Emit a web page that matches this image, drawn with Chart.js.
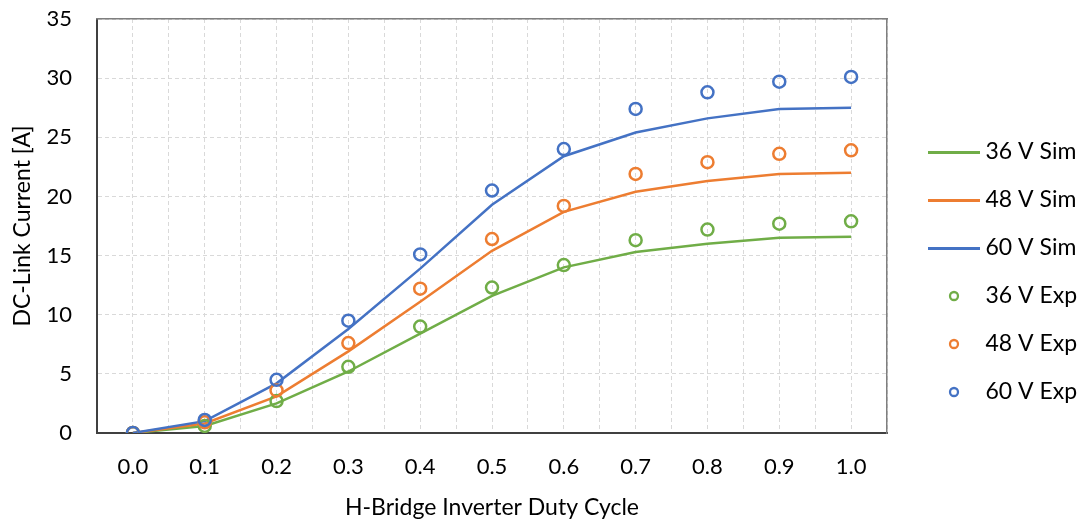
<!DOCTYPE html>
<html lang="en">
<head>
<meta charset="UTF-8">
<title>DC-Link Current vs Duty Cycle</title>
<script src="https://cdn.jsdelivr.net/npm/chart.js"></script>
<style>
  html, body { margin: 0; padding: 0; background: #fff; }
  #wrap { width: 1083px; height: 522px; }
</style>
</head>
<body>
<div id="wrap"><canvas id="chart" width="1083" height="522"></canvas></div>
<script>
// duty cycle categories
const dutyCycle = [0, 0.1, 0.2, 0.3, 0.4, 0.5, 0.6, 0.7, 0.8, 0.9, 1.0];
const xTickLabels = ['0.0', '0.1', '0.2', '0.3', '0.4', '0.5', '0.6', '0.7', '0.8', '0.9', '1.0'];

// simulation curves [A]
const sim36 = [0, 0.6, 2.5, 5.2, 8.4, 11.6, 14.0, 15.3, 16.0, 16.5, 16.6];
const sim48 = [0, 0.8, 3.1, 6.9, 11.1, 15.4, 18.7, 20.4, 21.3, 21.9, 22.0];
const sim60 = [0, 1.0, 4.2, 8.8, 13.9, 19.3, 23.4, 25.4, 26.6, 27.4, 27.5];

// measured points [A]
const exp36 = [0, 0.6, 2.7, 5.6, 9.0, 12.3, 14.2, 16.3, 17.2, 17.7, 17.9];
const exp48 = [0, 0.9, 3.6, 7.6, 12.2, 16.4, 19.2, 21.9, 22.9, 23.6, 23.9];
const exp60 = [0, 1.1, 4.5, 9.5, 15.1, 20.5, 24.0, 27.4, 28.8, 29.7, 30.1];

const yTicks = [0, 5, 10, 15, 20, 25, 30, 35];

const GREEN = '#70AD47', ORANGE = '#ED7D31', BLUE = '#4472C4';
const FONT = 'Lato, "Noto Sans", sans-serif';

const pts = arr => dutyCycle.map((x, i) => ({ x: x, y: arr[i] }));

function lineIcon(color) {
    const c = document.createElement('canvas');
    c.width = 52; c.height = 3;
    const g = c.getContext('2d');
    g.fillStyle = color;
    g.fillRect(0, 0, 52, 3);
    return c;
}
function circleIcon(color) {
    const c = document.createElement('canvas');
    c.width = 14; c.height = 14;
    const g = c.getContext('2d');
    g.strokeStyle = color;
    g.lineWidth = 2.3;
    g.beginPath();
    g.arc(7, 7, 4, 0, Math.PI * 2);
    g.stroke();
    return c;
}

function simSet(label, data, color, order) {
    return { label, data: pts(data), borderColor: color, backgroundColor: color, borderWidth: 2.5,
        showLine: true, pointRadius: 0, tension: 0, order, icon: lineIcon(color) };
}
function expSet(label, data, color, order) {
    return { label, data: pts(data), borderColor: color, backgroundColor: 'rgba(0,0,0,0)', showLine: false,
        pointRadius: 6, pointBorderWidth: 2.5, pointBackgroundColor: 'rgba(0,0,0,0)', pointBorderColor: color,
        order, icon: circleIcon(color) };
}

// half-category gridline positions
const xGrid = [];
dutyCycle.forEach(v => { xGrid.push(v - 0.05); xGrid.push(v); });
xGrid.push(dutyCycle[dutyCycle.length - 1] + 0.05);

const axisColor = '#404040';
const frame = '#7f7f7f';
const gridColor = '#d9d9d9';

new Chart(document.getElementById('chart'), {
    type: 'scatter',
    data: {
        datasets: [
            simSet('36 V Sim', sim36, GREEN, 6),
            simSet('48 V Sim', sim48, ORANGE, 5),
            simSet('60 V Sim', sim60, BLUE, 4),
            expSet('36 V Exp', exp36, GREEN, 3),
            expSet('48 V Exp', exp48, ORANGE, 2),
            expSet('60 V Exp', exp60, BLUE, 1)
        ]
    },
    options: {
        responsive: false,
        animation: false,
        layout: { padding: { top: 0, right: 0, bottom: 0, left: 0 } },
        plugins: {
            tooltip: { enabled: false },
            legend: {
                position: 'right',
                maxWidth: 174,
                title: { display: true, text: ' ', padding: 0, font: { size: 20, lineHeight: 1.1 } },
                labels: {
                    usePointStyle: true,
                    pointStyleWidth: 40,
                    boxHeight: 10,
                    padding: 25,
                    color: '#000',
                    font: { family: FONT, size: 23 },
                    sort: (a, b) => a.datasetIndex - b.datasetIndex,
                    generateLabels: chart => {
                        const items = Chart.defaults.plugins.legend.labels.generateLabels(chart);
                        items.forEach(it => { it.pointStyle = chart.data.datasets[it.datasetIndex].icon; });
                        return items;
                    }
                }
            }
        },
        scales: {
            x: {
                type: 'linear',
                position: 'bottom',
                min: -0.05,
                max: 1.05,
                afterBuildTicks: s => { s.ticks = xGrid.map(v => ({ value: v })); },
                afterFit: s => { s.height = 89; },
                ticks: {
                    autoSkip: false,
                    maxRotation: 0,
                    padding: 3,
                    color: '#000',
                    font: { family: FONT, size: 22 },
                    callback: v => {
                        const i = dutyCycle.findIndex(d => Math.abs(d - v) < 1e-6);
                        return i >= 0 ? xTickLabels[i] : '';
                    }
                },
                grid: { color: gridColor, lineWidth: 1, drawTicks: true, tickLength: 18, tickColor: 'rgba(0,0,0,0)' },
                border: { color: axisColor, width: 2, dash: [4, 3] },
                title: { display: true, text: 'H-Bridge Inverter Duty Cycle', color: '#000',
                    font: { family: FONT, size: 23 }, padding: { top: 0, bottom: 1 } }
            },
            y: {
                type: 'linear',
                position: 'left',
                min: 0,
                max: 35,
                afterBuildTicks: s => { s.ticks = yTicks.map(v => ({ value: v })); },
                afterFit: s => { s.width = 97; },
                ticks: { padding: 3, color: '#000', font: { family: FONT, size: 22 } },
                grid: { color: gridColor, lineWidth: 1, drawTicks: true, tickLength: 22, tickColor: 'rgba(0,0,0,0)' },
                border: { color: axisColor, width: 2, dash: [4, 3] },
                title: { display: true, text: 'DC-Link Current [A]', color: '#000',
                    font: { family: FONT, size: 23 }, padding: { top: 9, bottom: 0 } }
            },
            xTop: {
                type: 'linear',
                position: 'top',
                afterFit: s => { s.height = 19; },
                ticks: { display: false },
                grid: { display: false, drawTicks: false },
                border: { color: frame, width: 1.5 }
            },
            yRight: {
                type: 'linear',
                position: 'right',
                afterFit: s => { s.width = 22; },
                ticks: { display: false },
                grid: { display: false, drawTicks: false },
                border: { color: frame, width: 1.5 }
            }
        }
    }
});
</script>
</body>
</html>
